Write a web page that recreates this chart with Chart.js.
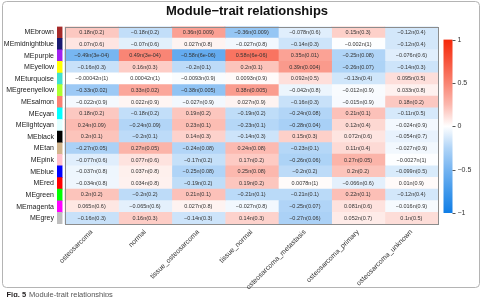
<!DOCTYPE html>
<html>
<head>
<meta charset="utf-8">
<script src="https://cdn.jsdelivr.net/npm/chart.js@4.4.0/dist/chart.umd.min.js"></script>
<style>
    html, body { margin: 0; padding: 0; background: #fff; }
    #wrap { position: relative; width: 483px; height: 297px; }
</style>
</head>
<body>
<div id="wrap"><canvas id="moduleTraitCanvas"></canvas></div>
<script>
// Module eigengenes (rows, top to bottom) and their colour swatches
const MODULES = ['MEbrown', 'MEmidnightblue', 'MEpurple', 'MEyellow', 'MEturquoise', 'MEgreenyellow',
    'MEsalmon', 'MEcyan', 'MElightcyan', 'MEblack', 'MEtan', 'MEpink', 'MEblue', 'MEred',
    'MEgreen', 'MEmagenta', 'MEgrey'];
const MODULE_COLORS = ['#A52A2A', '#191970', '#A020F0', '#FFFF00', '#40E0D0', '#ADFF2F',
    '#FA8072', '#00FFFF', '#E0FFFF', '#000000', '#D2B48C', '#FFC0CB', '#0000FF', '#FF0000',
    '#00FF00', '#FF00FF', '#BEBEBE'];

// Traits (columns)
const TRAITS = ['osteosarcoma', 'normal', 'tissue_osteosarcoma', 'tissue_normal',
    'osteosarcoma_metastasis', 'osteosarcoma_primary', 'osteosarcoma_unknown'];

// Correlations, one array per trait
const COR_OSTEOSARCOMA = [0.18, 0.07, -0.49, -0.16, -0.00042, -0.33, -0.022, 0.18, 0.24, 0.2, -0.27, -0.077, -0.037, -0.034, 0.2, 0.065, -0.16];
const COR_NORMAL = [-0.18, -0.07, 0.49, 0.16, 0.00042, 0.33, 0.022, -0.18, -0.24, -0.2, 0.27, 0.077, 0.037, 0.034, -0.2, -0.065, 0.16];
const COR_TISSUE_OS = [0.36, 0.027, -0.58, -0.2, -0.0093, -0.38, -0.027, 0.19, 0.23, 0.14, -0.24, -0.17, -0.25, -0.19, 0.21, 0.027, -0.14];
const COR_TISSUE_NORMAL = [-0.36, -0.027, 0.58, 0.2, 0.0093, 0.38, 0.027, -0.19, -0.23, -0.14, 0.24, 0.17, 0.25, 0.19, -0.21, -0.027, 0.14];
const COR_METASTASIS = [-0.078, -0.14, 0.35, 0.39, 0.092, -0.042, -0.16, -0.24, -0.28, 0.15, -0.23, -0.26, -0.2, 0.0078, -0.21, -0.25, -0.27];
const COR_PRIMARY = [0.15, -0.002, -0.25, -0.26, -0.13, -0.012, -0.015, 0.21, 0.12, 0.072, 0.11, 0.27, 0.2, -0.066, 0.22, 0.081, 0.052];
const COR_UNKNOWN = [-0.12, -0.12, -0.076, -0.14, 0.095, 0.033, 0.18, -0.11, -0.024, -0.054, -0.027, -0.0027, -0.099, 0.01, -0.12, -0.016, 0.1];

// P-values as printed
const P_OSTEOSARCOMA = ['0.2', '0.6', '3e-04', '0.3', '1', '0.02', '0.9', '0.2', '0.09', '0.1', '0.05', '0.6', '0.8', '0.8', '0.2', '0.6', '0.3'];
const P_NORMAL = ['0.2', '0.6', '3e-04', '0.3', '1', '0.02', '0.9', '0.2', '0.09', '0.1', '0.05', '0.6', '0.8', '0.8', '0.2', '0.6', '0.3'];
const P_TISSUE_OS = ['0.009', '0.8', '6e-06', '0.1', '0.9', '0.005', '0.9', '0.2', '0.1', '0.3', '0.08', '0.2', '0.08', '0.2', '0.1', '0.8', '0.3'];
const P_TISSUE_NORMAL = ['0.009', '0.8', '6e-06', '0.1', '0.9', '0.005', '0.9', '0.2', '0.1', '0.3', '0.08', '0.2', '0.08', '0.2', '0.1', '0.8', '0.3'];
const P_METASTASIS = ['0.6', '0.3', '0.01', '0.004', '0.5', '0.8', '0.3', '0.08', '0.04', '0.3', '0.1', '0.06', '0.2', '1', '0.1', '0.07', '0.06'];
const P_PRIMARY = ['0.3', '1', '0.08', '0.07', '0.4', '0.9', '0.9', '0.1', '0.4', '0.6', '0.4', '0.05', '0.2', '0.6', '0.1', '0.6', '0.7'];
const P_UNKNOWN = ['0.4', '0.4', '0.6', '0.3', '0.5', '0.8', '0.2', '0.5', '0.9', '0.7', '0.9', '1', '0.5', '0.9', '0.4', '0.9', '0.5'];

const COR_BY_TRAIT = [COR_OSTEOSARCOMA, COR_NORMAL, COR_TISSUE_OS, COR_TISSUE_NORMAL, COR_METASTASIS, COR_PRIMARY, COR_UNKNOWN];
const P_BY_TRAIT = [P_OSTEOSARCOMA, P_NORMAL, P_TISSUE_OS, P_TISSUE_NORMAL, P_METASTASIS, P_PRIMARY, P_UNKNOWN];

const COLORBAR_TICKS = [1, 0.5, 0, -0.5, -1];
// colour key value range mapped onto the chart area height
const CB_MIN = -1.127;
const CB_MAX = 1.15;

const FONT = "'Liberation Sans', Arial, sans-serif";
const BLUE_END = [15, 125, 230];
const RED_END = [245, 40, 10];

// blue - white - red scale for correlations in [-1, 1]
function corColor(v) {
    const end = v < 0 ? BLUE_END : RED_END;
    const t = Math.pow(Math.min(1, Math.abs(v)), 0.8);
    const c = end.map(e => Math.round(255 + (e - 255) * t));
    return `rgb(${c[0]},${c[1]},${c[2]})`;
}

function cellLabel(r, p) {
    return String(r).replace('-', '\u2212') + 'n(' + p + ')';
}

// Strip of module colours, then one floating-bar dataset per trait column
const datasets = [{
    label: 'module',
    data: MODULES.map(() => [-0.145, -0.055]),
    backgroundColor: MODULE_COLORS,
    borderWidth: 0
}];
TRAITS.forEach((trait, i) => {
    datasets.push({
        label: trait,
        data: MODULES.map(() => [i, i + 1]),
        backgroundColor: COR_BY_TRAIT[i].map(corColor),
        borderWidth: 0,
        inflateAmount: 0.5
    });
});

const figureFrame = {
    id: 'figureFrame',
    beforeDraw(chart) {
        const ctx = chart.ctx;
        ctx.save();
        ctx.fillStyle = '#fff';
        ctx.fillRect(0, 0, chart.width, chart.height);
        ctx.strokeStyle = '#b4b4b4';
        ctx.lineWidth = 1;
        ctx.beginPath();
        ctx.roundRect(2.5, 1.5, 477, 286, 4);
        ctx.stroke();
        // caption
        ctx.textBaseline = 'alphabetic';
        ctx.textAlign = 'left';
        ctx.font = `bold 7.5px ${FONT}`;
        ctx.fillStyle = '#231f20';
        ctx.fillText('Fig. 5', 6.5, 296.5);
        const w = ctx.measureText('Fig. 5').width;
        ctx.font = `7.5px ${FONT}`;
        ctx.fillStyle = '#555';
        ctx.fillText('Module-trait relationships', 6.5 + w + 3, 296.5);
        ctx.restore();
    }
};

const cellText = {
    id: 'cellText',
    afterDatasetsDraw(chart) {
        const ctx = chart.ctx;
        const x = chart.scales.x;
        const area = chart.chartArea;
        ctx.save();
        ctx.font = `5.5px ${FONT}`;
        ctx.fillStyle = '#333';
        ctx.textAlign = 'center';
        ctx.textBaseline = 'middle';
        TRAITS.forEach((trait, i) => {
            const meta = chart.getDatasetMeta(i + 1);
            meta.data.forEach((bar, j) => {
                const cx = (bar.x + bar.base) / 2;
                ctx.fillText(cellLabel(COR_BY_TRAIT[i][j], P_BY_TRAIT[i][j]), cx, bar.y);
            });
        });
        // heatmap border
        const left = x.getPixelForValue(0);
        const right = x.getPixelForValue(TRAITS.length);
        ctx.strokeStyle = '#8c8c8c';
        ctx.lineWidth = 1;
        ctx.strokeRect(Math.round(left) + 0.5, Math.round(area.top) + 0.5,
            Math.round(right - left), Math.round(area.bottom - area.top));
        ctx.restore();
    }
};

const colorBar = {
    id: 'colorBar',
    afterDraw(chart) {
        const ctx = chart.ctx;
        const area = chart.chartArea;
        const yOf = v => area.top + (CB_MAX - v) / (CB_MAX - CB_MIN) * (area.bottom - area.top);
        const x0 = 443.5, barW = 9;
        const yTop = yOf(1);
        const yBot = yOf(-1);
        ctx.save();
        const grad = ctx.createLinearGradient(0, yTop, 0, yBot);
        [1, 0.75, 0.5, 0.25, 0, -0.25, -0.5, -0.75, -1].forEach((v, k) => grad.addColorStop(k / 8, corColor(v)));
        ctx.fillStyle = grad;
        ctx.fillRect(x0, yTop, barW, yBot - yTop);
        ctx.strokeStyle = '#555';
        ctx.lineWidth = 1;
        ctx.font = `7px ${FONT}`;
        ctx.fillStyle = '#333';
        ctx.textAlign = 'left';
        ctx.textBaseline = 'middle';
        COLORBAR_TICKS.forEach(t => {
            const y = Math.round(yOf(t)) + 0.5;
            ctx.beginPath();
            ctx.moveTo(x0 + barW, y);
            ctx.lineTo(x0 + barW + 3, y);
            ctx.stroke();
            ctx.fillText(String(t).replace('-', '\u2212'), x0 + barW + 5, y);
        });
        ctx.restore();
    }
};

const canvas = document.getElementById('moduleTraitCanvas');
new Chart(canvas.getContext('2d'), {
    type: 'bar',
    data: { labels: MODULES, datasets: datasets },
    options: {
        indexAxis: 'y',
        responsive: true,
        maintainAspectRatio: false,
        animation: false,
        layout: { padding: { left: 2, right: 45, top: 0, bottom: 0 } },
        datasets: { bar: { barPercentage: 1, categoryPercentage: 1 } },
        scales: {
            x: {
                type: 'linear',
                min: -0.17,
                max: TRAITS.length,
                stacked: false,
                grid: { display: false, drawTicks: false },
                border: { display: false },
                afterBuildTicks(scale) {
                    scale.ticks = TRAITS.map((t, i) => ({ value: i + 0.5 }));
                },
                afterFit(scale) { scale.height = 73; },
                ticks: {
                    autoSkip: false,
                    minRotation: 45,
                    maxRotation: 45,
                    padding: 4,
                    color: '#333',
                    font: { family: FONT, size: 7 },
                    callback: (value, index) => TRAITS[index]
                }
            },
            y: {
                type: 'category',
                stacked: true,
                grid: { display: false, drawTicks: false },
                border: { display: false },
                afterFit(scale) { scale.width = 54; },
                ticks: {
                    padding: 2,
                    color: '#222',
                    font: { family: FONT, size: 7 }
                }
            }
        },
        plugins: {
            legend: { display: false },
            tooltip: { enabled: false },
            title: {
                display: true,
                text: 'Module\u2212trait relationships',
                fullSize: false,
                color: '#111',
                font: { family: FONT, size: 13, weight: 'bold' },
                padding: { top: 4, bottom: 7 }
            }
        }
    },
    plugins: [figureFrame, cellText, colorBar]
});
</script>
</body>
</html>
